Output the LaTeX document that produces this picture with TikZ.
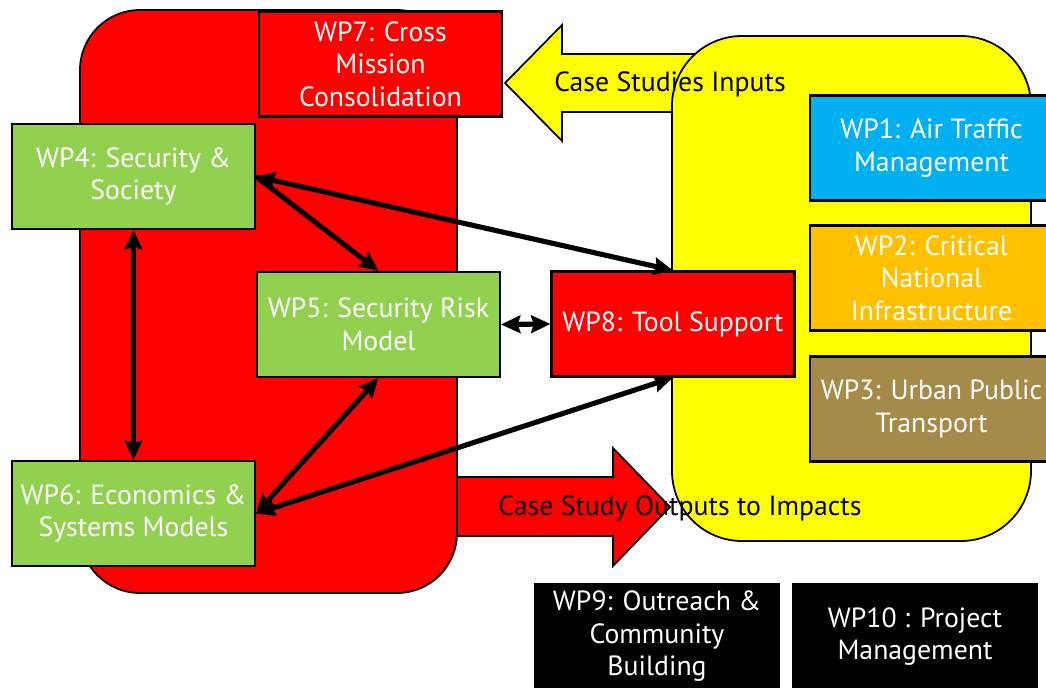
\documentclass[tikz,border=0pt]{standalone}
\usepackage{fontspec}
\setmainfont{PT Sans}
\usetikzlibrary{arrows.meta,positioning}

\definecolor{wpred}{RGB}{255,0,0}
\definecolor{wpyellow}{RGB}{255,255,0}
\definecolor{wpgreen}{RGB}{146,208,80}
\definecolor{wpblue}{RGB}{0,176,240}
\definecolor{wporange}{RGB}{255,192,0}
\definecolor{wpbrown}{RGB}{166,138,74}

\tikzset{
  wpbox/.style={draw,line width=1.2pt,minimum width=4.86cm,minimum height=2.1cm,
    align=center,text=white,inner sep=1pt,font=\fontsize{15.8}{18.5}\selectfont},
  blocklabel/.style={text=black,inner sep=0pt,font=\fontsize{15.8}{18}\selectfont},
  blockshape/.style={draw,line width=1pt},
  link/.style={line width=2.9pt,>={Stealth[length=11pt,width=10pt,inset=1.5pt]}},
}

\begin{document}
\begin{tikzpicture}[x=0.2mm,y=-0.2mm]
\useasboundingbox (0,0) rectangle (1046,688);
\clip (0,0) rectangle (1046,688);

% big areas
\draw[blockshape,fill=wpred,rounded corners=1.2cm] (80,10) rectangle (457,593);
\draw[blockshape,fill=wpyellow] (700,54) -- (562,54) -- (562,25) -- (505,83) -- (562,141) -- (562,112) -- (700,112) -- cycle;
\draw[blockshape,fill=wpred] (457,477) -- (613,477) -- (613,448) -- (670,507) -- (613,566) -- (613,536) -- (457,536) -- cycle;
\draw[blockshape,fill=wpyellow,rounded corners=1.4cm] (672,36) rectangle (1031,541);

% work packages
\node[wpbox,fill=wpred] (wp7) at (380.5,64) {WP7: Cross\\Mission\\Consolidation};
\node[wpbox,fill=wpgreen] (wp4) at (133.5,176.5) {WP4: Security \&\\Society};
\node[wpbox,fill=wpgreen] (wp5) at (378.5,324.5) {WP5: Security Risk\\Model};
\node[wpbox,fill=wpgreen] (wp6) at (133.5,513.5) {WP6: Economics \&\\Systems Models};
\node[wpbox,fill=wpred] (wp8) at (673,324) {WP8: Tool Support};
\node[wpbox,fill=wpblue] (wp1) at (931.5,148) {WP1: Air Traffic\\Management};
\node[wpbox,fill=wporange] (wp2) at (931.5,278) {WP2: Critical\\National\\Infrastructure};
\node[wpbox,fill=wpbrown] (wp3) at (931.5,409) {WP3: Urban Public\\Transport};
\node[wpbox,fill=black] (wp9) at (657,636.5) {WP9: Outreach \&\\Community\\Building};
\node[wpbox,fill=black] (wp10) at (915,636.5) {WP10 : Project\\Management};

% block arrow labels
\node[blocklabel] (inputs) at (670,84) {Case Studies Inputs};
\node[blocklabel] (outputs) at (680,508) {Case Study Outputs to Impacts};

% links
\path [<->,link]
  (wp4.east) edge (wp8.north)
  (wp4.south) edge (wp6.north)
  (wp5.east) edge (wp8.west)
  (wp5.south) edge (wp6.east)
  (wp6.east) edge (wp8.south);
\path [->,link]
  (wp4.east) edge (wp5.north);
\end{tikzpicture}
\end{document}
